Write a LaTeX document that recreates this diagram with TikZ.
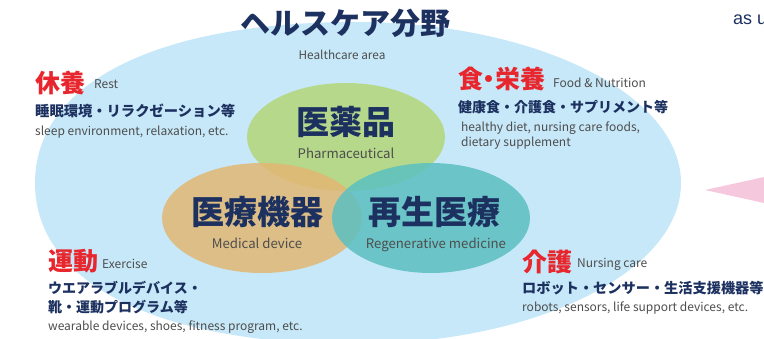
\documentclass[tikz,border=0pt]{standalone}
\usepackage{fontspec}
\setmainfont{Noto Sans CJK JP}
\newfontfamily\arialfont{Liberation Sans}
\newfontfamily\jppalt{Noto Sans CJK JP}[RawFeature=+palt]
\definecolor{bgblue}{RGB}{199,232,248}
\definecolor{navy}{RGB}{28,49,96}
\definecolor{redlab}{RGB}{232,38,45}
\definecolor{graytxt}{RGB}{77,77,77}
\definecolor{greenc}{RGB}{180,214,121}
\definecolor{orangec}{RGB}{226,183,115}
\definecolor{tealc}{RGB}{91,192,192}
\definecolor{pinkc}{RGB}{246,200,222}
\tikzset{
  jpbold/.style={font=\bfseries\fontsize{#1}{#1}\selectfont, text=navy, inner sep=0pt},
  redlabel/.style={font=\jppalt\bfseries\fontsize{#1}{#1}\selectfont, text=redlab, inner sep=0pt, anchor=base west},
  entxt/.style={font=\fontsize{#1}{#1}\selectfont, text=graytxt, inner sep=0pt},
  circ/.style={fill=#1, fill opacity=0.85},
}
\begin{document}
\begin{tikzpicture}[x=1pt,y=-1pt]
\useasboundingbox (0,0) rectangle (764,338);
\clip (0,0) rectangle (764,338);
% healthcare area
\fill[bgblue] (355,22) .. controls (535,22) and (681,94) .. (681,183)
  .. controls (681,272) and (535,344) .. (355,344)
  .. controls (157,344) and (35,283) .. (35,183)
  .. controls (35,83) and (157,22) .. (355,22) -- cycle;
% pink arrow shape
\fill[pinkc] (705,190) -- (764,177) -- (764,203) -- cycle;
% venn circles
\fill[circ=greenc] (346,137) ellipse [x radius=99, y radius=54];
\fill[circ=orangec] (262,218) ellipse [x radius=100, y radius=55];
\fill[circ=tealc] (431,218) ellipse [x radius=99, y radius=55];
% title
\node[jpbold=30, anchor=base] (title) at (345,34) {ヘルスケア分野};
\node[entxt=11.8, anchor=base] (titleen) at (342,59) {Healthcare area};
\node[font=\arialfont\fontsize{18}{18}\selectfont, text=navy, inner sep=0pt, anchor=base west] (asu) at (733,24) {as u};
% venn labels
\node[jpbold=33, anchor=base] (pharm) at (346,134) {医薬品};
\node[entxt=13.2, anchor=base] (pharmen) at (346,158) {Pharmaceutical};
\node[jpbold=33, anchor=base] (meddev) at (257,224) {医療機器};
\node[entxt=13.2, anchor=base] (meddeven) at (257,248) {Medical device};
\node[jpbold=33, anchor=base] (regen) at (434,224) {再生医療};
\node[entxt=13.2, anchor=base] (regenen) at (436,248) {Regenerative medicine};
% rest
\node[redlabel=25] (rest) at (35,92) {休養};
\node[entxt=12, anchor=base west] (resten) at (94,88) {Rest};
\node[jpbold=14.3, anchor=base west] (restjp) at (35,116) {睡眠環境・リラクゼーション等};
\node[entxt=12, anchor=base west] (restdesc) at (35,135) {sleep environment, relaxation, etc.};
% food
\node[redlabel=25] (food) at (458,88) {食・栄養};
\node[entxt=12, anchor=base west] (fooden) at (553,87) {Food \& Nutrition};
\node[jpbold=14, anchor=base west] (foodjp) at (458,112) {健康食・介護食・サプリメント等};
\node[entxt=12, anchor=base west] (fooddesc1) at (461,131) {healthy diet, nursing care foods,};
\node[entxt=12, anchor=base west] (fooddesc2) at (461,146) {dietary supplement};
% exercise
\node[redlabel=25] (ex) at (48,270) {運動};
\node[entxt=12, anchor=base west] (exen) at (102,268) {Exercise};
\node[jpbold=14, anchor=base west] (exjp1) at (48,293) {ウエアラブルデバイス・};
\node[jpbold=14, anchor=base west] (exjp2) at (48,312) {靴・運動プログラム等};
\node[entxt=12, anchor=base west] (exdesc) at (48,330) {wearable devices, shoes, fitness program, etc.};
% nursing
\node[redlabel=25] (nurse) at (522,271) {介護};
\node[entxt=12, anchor=base west] (nurseen) at (577,267) {Nursing care};
\node[jpbold=14.2, anchor=base west] (nursejp) at (522,293) {ロボット・センサー・生活支援機器等};
\node[entxt=12, anchor=base west] (nursedesc) at (522,311) {robots, sensors, life support devices, etc.};
\end{tikzpicture}
\end{document}
